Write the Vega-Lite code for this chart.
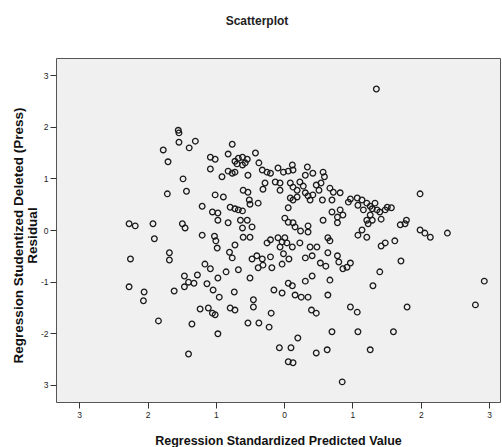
{
  "$schema": "https://vega.github.io/schema/vega-lite/v6.json",
  "width": 444,
  "height": 344,
  "autosize": {"type": "none"},
  "padding": {"left": 56, "top": 58, "right": 2, "bottom": 45},
  "background": "white",
  "title": {
    "text": "Scatterplot",
    "font": "Liberation Sans",
    "fontSize": 12,
    "fontWeight": "bold",
    "color": "#222",
    "anchor": "middle",
    "baseline": "alphabetic",
    "dx": -21,
    "offset": 21
  },
  "data": {
    "values": [
      {"x": 1.35, "y": 2.73},
      {"x": -1.55, "y": 1.93}, {"x": -1.54, "y": 1.88}, {"x": -1.54, "y": 1.70}, {"x": -1.39, "y": 1.59}, {"x": -1.30, "y": 1.72},
      {"x": -1.77, "y": 1.55}, {"x": -1.70, "y": 1.32}, {"x": -1.08, "y": 1.41}, {"x": -1.01, "y": 1.37}, {"x": -1.08, "y": 1.18},
      {"x": -0.91, "y": 1.03}, {"x": -1.48, "y": 0.99}, {"x": -1.43, "y": 0.75}, {"x": -1.71, "y": 0.70}, {"x": -1.01, "y": 0.68},
      {"x": -0.89, "y": 0.64}, {"x": -1.20, "y": 0.46}, {"x": -1.05, "y": 0.35}, {"x": -0.97, "y": 0.33}, {"x": -0.97, "y": 0.19},
      {"x": -2.27, "y": 0.12}, {"x": -2.18, "y": 0.08}, {"x": -1.92, "y": 0.12}, {"x": -1.49, "y": 0.12}, {"x": -1.45, "y": 0.04},
      {"x": -1.90, "y": -0.17}, {"x": -1.20, "y": -0.10}, {"x": -1.02, "y": -0.12}, {"x": -1.00, "y": -0.21}, {"x": -0.98, "y": -0.35},
      {"x": -1.68, "y": -0.44}, {"x": -1.68, "y": -0.58}, {"x": -2.25, "y": -0.56},
      {"x": -0.76, "y": 1.66}, {"x": -0.82, "y": 1.47}, {"x": -0.72, "y": 1.33}, {"x": -0.67, "y": 1.39}, {"x": -0.61, "y": 1.41},
      {"x": -0.54, "y": 1.37}, {"x": -0.69, "y": 1.28}, {"x": -0.61, "y": 1.26}, {"x": -0.57, "y": 1.30}, {"x": -0.42, "y": 1.49},
      {"x": -0.82, "y": 1.14}, {"x": -0.76, "y": 1.10}, {"x": -0.72, "y": 1.12}, {"x": -0.53, "y": 1.06}, {"x": -0.37, "y": 1.30},
      {"x": -0.32, "y": 1.16}, {"x": -0.25, "y": 1.12}, {"x": -0.20, "y": 1.10}, {"x": -0.09, "y": 1.20}, {"x": -0.01, "y": 1.12},
      {"x": 0.06, "y": 1.14}, {"x": 0.13, "y": 1.16}, {"x": 0.12, "y": 1.26}, {"x": -0.28, "y": 0.91}, {"x": -0.31, "y": 0.79},
      {"x": -0.13, "y": 0.93}, {"x": -0.06, "y": 0.91}, {"x": -0.06, "y": 0.77}, {"x": 0.09, "y": 0.91}, {"x": 0.13, "y": 0.83},
      {"x": 0.19, "y": 0.77}, {"x": 0.23, "y": 0.93}, {"x": 0.28, "y": 0.85}, {"x": 0.31, "y": 0.72}, {"x": 0.35, "y": 0.66},
      {"x": 0.09, "y": 0.62}, {"x": 0.13, "y": 0.58}, {"x": 0.19, "y": 0.64}, {"x": 0.06, "y": 0.43}, {"x": 0.01, "y": 0.23},
      {"x": 0.06, "y": 0.15}, {"x": 0.13, "y": 0.14}, {"x": 0.16, "y": 0.06}, {"x": 0.24, "y": -0.02}, {"x": 0.35, "y": 0.08},
      {"x": 0.35, "y": -0.04}, {"x": -0.79, "y": 0.44}, {"x": -0.72, "y": 0.41}, {"x": -0.67, "y": 0.39}, {"x": -0.61, "y": 0.37},
      {"x": -0.60, "y": 0.77}, {"x": -0.53, "y": 0.73}, {"x": -0.51, "y": 0.58}, {"x": -0.50, "y": 0.50}, {"x": -0.38, "y": 0.52},
      {"x": -0.82, "y": 0.14}, {"x": -0.64, "y": 0.19}, {"x": -0.54, "y": 0.19}, {"x": -0.61, "y": 0.04}, {"x": -0.47, "y": 0.06},
      {"x": -0.50, "y": -0.14}, {"x": -0.60, "y": -0.14}, {"x": -0.72, "y": -0.29}, {"x": -0.25, "y": -0.25}, {"x": -0.20, "y": -0.19},
      {"x": -0.09, "y": -0.15}, {"x": -0.03, "y": -0.23}, {"x": -0.06, "y": -0.33}, {"x": 0.01, "y": -0.15}, {"x": 0.04, "y": -0.25},
      {"x": 0.12, "y": -0.33}, {"x": 0.23, "y": -0.25}, {"x": -0.80, "y": -0.43}, {"x": -0.76, "y": -0.54}, {"x": -0.47, "y": -0.56},
      {"x": -0.40, "y": -0.50}, {"x": -0.20, "y": -0.52},
      {"x": 0.34, "y": 1.22}, {"x": 0.42, "y": 1.10}, {"x": 0.31, "y": 1.06}, {"x": 0.57, "y": 1.12}, {"x": 0.59, "y": 1.03},
      {"x": 0.47, "y": 0.87}, {"x": 0.54, "y": 0.91}, {"x": 0.51, "y": 0.77}, {"x": 0.38, "y": 0.58}, {"x": 0.42, "y": 0.68},
      {"x": 0.56, "y": 0.58}, {"x": 0.67, "y": 0.81}, {"x": 0.72, "y": 0.73}, {"x": 0.70, "y": 0.58}, {"x": 0.82, "y": 0.72},
      {"x": 0.94, "y": 0.54}, {"x": 0.97, "y": 0.60}, {"x": 1.07, "y": 0.62}, {"x": 1.08, "y": 0.48}, {"x": 1.14, "y": 0.58},
      {"x": 1.16, "y": 0.39}, {"x": 1.21, "y": 0.52}, {"x": 1.26, "y": 0.46}, {"x": 1.29, "y": 0.41}, {"x": 1.33, "y": 0.52},
      {"x": 1.36, "y": 0.39}, {"x": 1.40, "y": 0.35}, {"x": 1.48, "y": 0.39}, {"x": 1.51, "y": 0.44}, {"x": 1.57, "y": 0.43},
      {"x": 1.26, "y": 0.29}, {"x": 1.29, "y": 0.19}, {"x": 1.21, "y": 0.19}, {"x": 1.23, "y": 0.12}, {"x": 1.42, "y": 0.21},
      {"x": 0.70, "y": 0.35}, {"x": 0.82, "y": 0.39}, {"x": 0.78, "y": 0.25}, {"x": 0.86, "y": 0.29}, {"x": 0.78, "y": 0.14},
      {"x": 0.57, "y": 0.19}, {"x": 1.14, "y": 0.00}, {"x": 1.08, "y": -0.10}, {"x": 1.21, "y": -0.14}, {"x": 1.70, "y": 0.10},
      {"x": 1.79, "y": 0.19}, {"x": 1.77, "y": 0.12}, {"x": 1.99, "y": 0.70}, {"x": 1.99, "y": 0.00}, {"x": 2.06, "y": -0.06},
      {"x": 2.14, "y": -0.14}, {"x": 2.39, "y": -0.06}, {"x": 0.64, "y": -0.15}, {"x": 0.67, "y": -0.21}, {"x": 1.62, "y": -0.21},
      {"x": 1.42, "y": -0.31}, {"x": 1.48, "y": -0.25}, {"x": 0.48, "y": -0.33}, {"x": 0.38, "y": -0.33},
      {"x": 1.71, "y": -0.60}, {"x": 1.40, "y": -0.81}, {"x": 2.93, "y": -0.99}, {"x": 1.80, "y": -1.49}, {"x": 2.80, "y": -1.45},
      {"x": 1.60, "y": -1.97},
      {"x": -2.27, "y": -1.10}, {"x": -2.05, "y": -1.20}, {"x": -2.06, "y": -1.37}, {"x": -1.84, "y": -1.76}, {"x": -1.61, "y": -1.18},
      {"x": -1.46, "y": -0.89}, {"x": -1.46, "y": -1.10}, {"x": -1.40, "y": -1.01}, {"x": -1.32, "y": -1.03}, {"x": -1.27, "y": -0.87},
      {"x": -1.16, "y": -0.66}, {"x": -1.08, "y": -0.75}, {"x": -0.97, "y": -0.93}, {"x": -0.85, "y": -0.81}, {"x": -0.67, "y": -0.77},
      {"x": -0.50, "y": -0.93}, {"x": -1.13, "y": -1.04}, {"x": -1.04, "y": -1.16}, {"x": -0.95, "y": -1.30}, {"x": -0.73, "y": -1.20},
      {"x": -1.23, "y": -1.53}, {"x": -1.11, "y": -1.51}, {"x": -1.05, "y": -1.61}, {"x": -1.01, "y": -1.64}, {"x": -1.35, "y": -1.82},
      {"x": -0.79, "y": -1.51}, {"x": -0.72, "y": -1.55}, {"x": -0.45, "y": -1.35}, {"x": -0.45, "y": -1.49}, {"x": -0.53, "y": -1.80},
      {"x": -0.97, "y": -2.01}, {"x": -1.40, "y": -2.40},
      {"x": -0.32, "y": -0.56}, {"x": -0.38, "y": -0.73}, {"x": -0.31, "y": -0.68}, {"x": -0.18, "y": -0.73}, {"x": -0.03, "y": -0.66},
      {"x": -0.01, "y": -0.46}, {"x": 0.07, "y": -0.56}, {"x": 0.31, "y": -0.54}, {"x": 0.41, "y": -0.50}, {"x": 0.53, "y": -0.64},
      {"x": 0.61, "y": -0.70}, {"x": 0.64, "y": -0.44}, {"x": 0.78, "y": -0.50}, {"x": 0.80, "y": -0.62}, {"x": 0.86, "y": -0.75},
      {"x": 0.92, "y": -0.72}, {"x": 0.97, "y": -0.64}, {"x": 0.06, "y": -1.03}, {"x": 0.12, "y": -1.08}, {"x": 0.31, "y": -0.99},
      {"x": 0.41, "y": -0.89}, {"x": 0.67, "y": -0.97}, {"x": 1.30, "y": -1.08}, {"x": -0.15, "y": -1.16}, {"x": -0.03, "y": -1.22},
      {"x": 0.16, "y": -1.26}, {"x": 0.25, "y": -1.30}, {"x": 0.35, "y": -1.30}, {"x": 0.64, "y": -1.26}, {"x": -0.19, "y": -1.61},
      {"x": 0.40, "y": -1.55}, {"x": 0.47, "y": -1.61}, {"x": 0.97, "y": -1.49}, {"x": 1.07, "y": -1.59}, {"x": -0.37, "y": -1.80},
      {"x": -0.22, "y": -1.88}, {"x": 0.70, "y": -1.97}, {"x": 1.08, "y": -1.97}, {"x": 0.20, "y": -2.09}, {"x": -0.07, "y": -2.28},
      {"x": 0.10, "y": -2.28}, {"x": 0.47, "y": -2.38}, {"x": 0.63, "y": -2.32}, {"x": 1.26, "y": -2.32}, {"x": 0.06, "y": -2.55},
      {"x": 0.13, "y": -2.57}, {"x": 0.85, "y": -2.94}
    ]
  },
  "mark": {"type": "point", "shape": "circle", "filled": false, "stroke": "#1a1a1a", "strokeWidth": 1.3, "size": 32, "opacity": 1},
  "encoding": {
    "x": {
      "field": "x",
      "type": "quantitative",
      "scale": {"domain": [-3.34, 3.16], "nice": false, "zero": false},
      "axis": {
        "title": "Regression Standardized Predicted Value",
        "values": [-3, -2, -1, 0, 1, 2, 3],
        "labelExpr": "format(abs(datum.value), 'd')",
        "grid": false,
        "domain": false,
        "tickSize": 6,
        "tickColor": "#333",
        "tickWidth": 1,
        "labelFont": "Liberation Sans",
        "labelFontSize": 8.5,
        "labelColor": "#222",
        "labelPadding": 2,
        "titleFont": "Liberation Sans",
        "titleFontSize": 12.5,
        "titleFontWeight": "bold",
        "titleColor": "#111",
        "titleBaseline": "alphabetic",
        "titleY": 42
      }
    },
    "y": {
      "field": "y",
      "type": "quantitative",
      "scale": {"domain": [-3.33, 3.33], "nice": false, "zero": false},
      "axis": {
        "title": ["Regression Studentized Deleted (Press)", "Residual"],
        "values": [-3, -2, -1, 0, 1, 2, 3],
        "labelExpr": "datum.value == -3 ? '3' : (datum.value < 0 ? '-' + abs(datum.value) : '' + datum.value)",
        "grid": false,
        "domain": false,
        "tickSize": 6,
        "tickColor": "#333",
        "tickWidth": 1,
        "labelFont": "Liberation Sans",
        "labelFontSize": 8.5,
        "labelColor": "#222",
        "labelPadding": 2,
        "titleFont": "Liberation Sans",
        "titleFontSize": 13.5,
        "titleFontWeight": "bold",
        "titleColor": "#111",
        "titleLineHeight": 14,
        "titleBaseline": "bottom",
        "titleX": -31,
        "titleY": 177
      }
    }
  },
  "config": {
    "view": {"fill": "#f0f0f0", "stroke": "#555", "strokeWidth": 1}
  }
}
